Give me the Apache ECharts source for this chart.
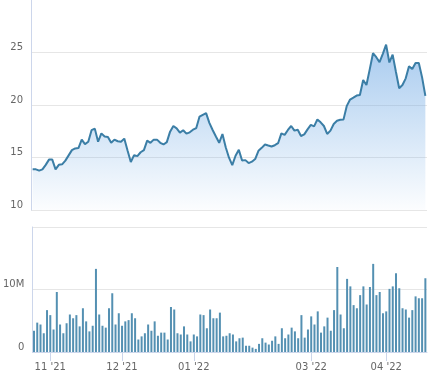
<!DOCTYPE html>
<html>
<head>
<meta charset="utf-8">
<script src="https://cdn.jsdelivr.net/npm/echarts@6/dist/echarts.min.js"></script>
<style>
html,body{margin:0;padding:0;background:#fff;}
#chart{width:433px;height:375px;}
</style>
</head>
<body>
<div id="chart"></div>
<script>
// Price (close) per trading day
const priceValues = [
13.87,13.87,13.75,13.87,14.3,14.8,14.8,13.87,14.3,14.35,
14.7,15.2,15.7,15.86,15.9,16.7,16.27,16.5,17.6,17.75,
16.5,17.3,17.0,16.96,16.4,16.7,16.55,16.5,16.8,15.67,
14.57,15.23,15.13,15.5,15.7,16.6,16.4,16.7,16.7,16.4,
16.24,16.46,17.46,18.0,17.78,17.37,17.6,17.27,17.4,17.65,
17.8,18.9,19.07,19.23,18.3,17.62,17.0,16.4,17.24,15.98,
14.98,14.28,15.17,15.73,14.72,14.75,14.47,14.6,14.85,15.64,
15.92,16.24,16.14,16.05,16.17,16.36,17.3,17.15,17.62,18.0,
17.56,17.65,17.05,17.2,17.68,18.1,17.97,18.63,18.35,18.0,
17.24,17.56,18.19,18.5,18.6,18.63,19.92,20.52,20.7,20.9,
20.96,22.38,21.9,23.39,24.93,24.55,24.08,24.87,25.75,24.05,
24.8,23.17,21.6,21.9,22.54,23.7,23.42,24.0,24.0,22.63,
20.87
];
// Volume per trading day, in millions
const volumeValues = [
3.4,4.7,4.4,3.0,6.7,5.9,3.6,9.6,4.4,3.0,
4.6,6.0,5.4,5.9,4.1,7.0,4.9,3.3,4.2,13.3,
6.0,4.2,3.9,7.0,9.4,4.4,6.2,4.2,4.9,5.1,
6.2,5.4,2.0,2.5,3.0,4.4,3.4,4.9,2.6,3.1,
3.1,2.0,7.2,6.8,3.0,2.8,4.1,2.8,1.7,2.8,
2.5,6.0,5.9,3.8,6.8,5.4,5.4,6.3,2.5,2.6,
3.0,2.8,1.7,2.2,2.3,1.0,1.0,0.7,0.5,1.3,
2.2,1.5,1.2,1.8,2.5,1.3,3.8,2.2,2.8,3.9,
3.3,2.2,5.9,2.3,3.6,5.7,4.4,6.5,3.1,4.1,
5.5,3.4,6.7,13.6,6.0,3.8,11.7,10.5,7.5,7.0,
9.1,10.5,7.6,10.4,14.1,9.1,9.6,6.2,6.5,10.1,
10.5,12.6,10.2,7.0,6.8,5.5,6.7,8.9,8.6,8.6,
11.8
];
// Month tick labels and the trading-day index where each sits
const tickIndex = [5, 27, 49, 85, 108];
const tickText = ["11 '21", "12 '21", "01 '22", "03 '22", "04 '22"];
const priceTicks = [10, 15, 20, 25, 30];
const volumeTicks = [0, 10, 20];

const categories = priceValues.map(function (_, i) {
  const k = tickIndex.indexOf(i);
  return k >= 0 ? tickText[k] : '';
});
const isTick = function (i) { return tickIndex.indexOf(i) >= 0; };

const font = 'DejaVu Sans';
const labelColor = '#666666';
const axisBlue = '#ccd6eb';
const gridGray = '#e6e6e6';

const chart = echarts.init(document.getElementById('chart'), null, {renderer: 'canvas'});
chart.setOption({
  animation: false,
  backgroundColor: '#ffffff',
  grid: [
    {left: 31, right: 6, top: 0, height: 210},
    {left: 31, right: 6, top: 227, height: 125}
  ],
  xAxis: [
    {
      type: 'category', gridIndex: 0, data: categories, boundaryGap: true,
      axisLine: {show: false}, axisTick: {show: false}, axisLabel: {show: false}
    },
    {
      type: 'category', gridIndex: 1, data: categories, boundaryGap: true,
      axisLine: {show: true, lineStyle: {color: axisBlue, width: 1}},
      axisTick: {show: true, alignWithLabel: true, length: 9,
        interval: function (i) { return isTick(i); },
        lineStyle: {color: axisBlue}},
      axisLabel: {show: true, interval: function (i) { return isTick(i); },
        color: labelColor, fontSize: 10, fontFamily: font, margin: 10}
    }
  ],
  yAxis: [
    {
      type: 'value', gridIndex: 0, min: priceTicks[0], max: priceTicks[priceTicks.length - 1], interval: 5,
      axisLine: {show: true, lineStyle: {color: axisBlue}},
      axisTick: {show: false},
      axisLabel: {color: labelColor, fontSize: 10, fontFamily: font, margin: 8,
        verticalAlign: 'bottom', showMaxLabel: false},
      splitLine: {show: true, showMaxLine: false, lineStyle: {color: gridGray, width: 1}}
    },
    {
      type: 'value', gridIndex: 1, min: volumeTicks[0], max: volumeTicks[volumeTicks.length - 1], interval: 10,
      axisLine: {show: true, lineStyle: {color: axisBlue}},
      axisTick: {show: false},
      axisLabel: {color: labelColor, fontSize: 10, fontFamily: font, margin: 8,
        verticalAlign: 'bottom', showMaxLabel: false,
        formatter: function (v) { return v === 0 ? '0' : v + 'M'; }},
      splitLine: {show: true, lineStyle: {color: gridGray, width: 1}}
    }
  ],
  series: [
    {
      type: 'line', xAxisIndex: 0, yAxisIndex: 0, data: priceValues,
      symbol: 'none', smooth: false,
      lineStyle: {color: '#3b7ea6', width: 2},
      itemStyle: {color: '#3b7ea6'},
      areaStyle: {
        origin: 'start',
        color: new echarts.graphic.LinearGradient(0, 0, 0, 1, [
          {offset: 0, color: 'rgba(110,168,228,0.85)'},
          {offset: 1, color: 'rgba(110,168,228,0.03)'}
        ])
      }
    },
    {
      type: 'bar', xAxisIndex: 1, yAxisIndex: 1, data: volumeValues,
      barWidth: 2,
      itemStyle: {color: '#5490b2'}
    }
  ]
});
</script>
</body>
</html>
